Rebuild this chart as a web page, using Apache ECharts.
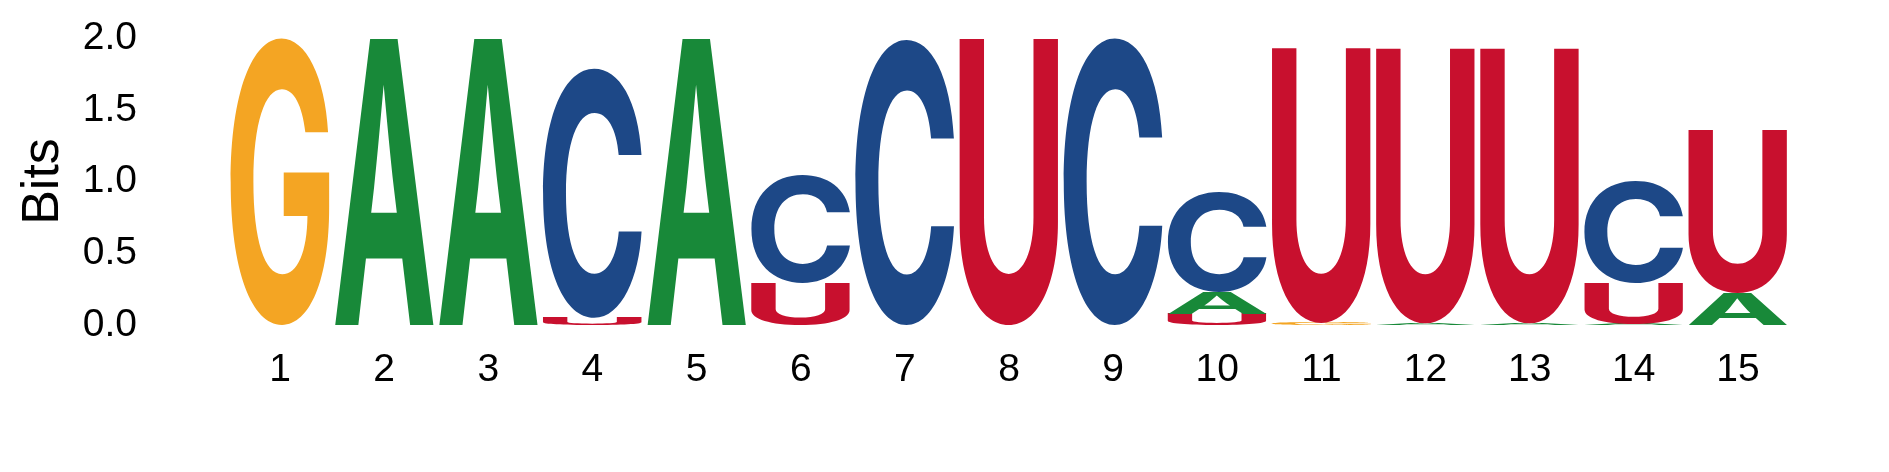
<!DOCTYPE html>
<html><head><meta charset="utf-8">
<script src="https://cdn.jsdelivr.net/npm/echarts@6/dist/echarts.min.js"></script>
<style>html,body{margin:0;padding:0;background:#fff}#c{width:1889px;height:472px}</style>
</head><body><div id="c"></div>
<script>
// ---- data ----
const positions = ['1','2','3','4','5','6','7','8','9','10','11','12','13','14','15'];
const letters = ['A', 'C', 'G', 'U'];
const letterColors = ['#188939', '#1D4887', '#F4A523', '#C8102E'];
const bitsA = [0, 2.00, 2.00, 0, 2.00, 0, 0, 0, 0, 0.15, 0, 0.012, 0.012, 0.012, 0.22];
const bitsC = [0, 0, 0, 1.73, 0, 0.75, 1.98, 0, 1.99, 0.70, 0, 0, 0, 0.71, 0];
const bitsG = [1.99, 0, 0, 0, 0, 0, 0, 0, 0, 0, 0.015, 0, 0, 0, 0];
const bitsU = [0, 0, 0, 0.05, 0, 0.29, 0, 2.00, 0, 0.08, 1.92, 1.92, 1.92, 0.28, 1.14];
const yMin = 0, yMax = 2, yStep = 0.5;

// ---- build stacked letter table ----
const bitsByLetter = [bitsA, bitsC, bitsG, bitsU];
const stackData = [];
positions.forEach((p, i) => {
  const items = letters.map((l, li) => ({ li, v: bitsByLetter[li][i] })).filter(d => d.v > 0);
  items.sort((a, b) => a.v - b.v);
  let base = 0;
  items.forEach(d => { stackData.push([i, base, base + d.v, d.li]); base += d.v; });
});

// ---- glyph ink metrics (canvas 'middle' baseline, as zrender draws) ----
const FONT = 'bold 200px Inter';
const mctx = document.createElement('canvas').getContext('2d');
mctx.font = FONT; mctx.textBaseline = 'middle'; mctx.textAlign = 'left';
const metrics = {};
letters.forEach(l => {
  const m = mctx.measureText(l);
  metrics[l] = { L: m.actualBoundingBoxLeft, R: m.actualBoundingBoxRight, A: m.actualBoundingBoxAscent, D: m.actualBoundingBoxDescent };
});

const chart = echarts.init(document.getElementById('c'), null, { renderer: 'canvas' });
chart.setOption({
  animation: false,
  backgroundColor: '#ffffff',
  grid: { left: 228, right: 99, top: 38, bottom: 147, containLabel: false },
  xAxis: {
    type: 'category', data: positions, boundaryGap: true,
    axisLine: { show: false }, axisTick: { show: false }, splitLine: { show: false },
    axisLabel: { interval: 0, fontSize: 39, color: '#000', fontFamily: 'Liberation Sans', margin: 26 }
  },
  yAxis: {
    type: 'value', min: yMin, max: yMax, interval: yStep,
    axisLine: { show: false }, axisTick: { show: false }, splitLine: { show: false },
    axisLabel: { fontSize: 39, color: '#000', fontFamily: 'Liberation Sans', margin: 91, formatter: v => v.toFixed(1) },
    name: 'Bits', nameLocation: 'middle', nameGap: 158,
    nameTextStyle: { fontSize: 52, color: '#000', fontFamily: 'Liberation Sans' }
  },
  series: [{
    type: 'custom', clip: false, silent: true,
    encode: { x: 0, y: [1, 2] },
    data: stackData,
    renderItem: function (params, api) {
      const xi = api.value(0), y0 = api.value(1), y1 = api.value(2), li = api.value(3);
      const pb = api.coord([xi, y0]);
      const pt = api.coord([xi, y1]);
      const bw = api.size([1, 0])[0] * 0.951;
      const h = pb[1] - pt[1];
      if (h < 0.3) return;
      const L = letters[li];
      const m = metrics[L];
      const sx = bw / (m.L + m.R), sy = h / (m.A + m.D);
      const left = pb[0] - bw / 2;
      return {
        type: 'text', silent: true,
        x: left + sx * m.L, y: pt[1] + sy * m.A, scaleX: sx, scaleY: sy,
        style: { text: L, font: FONT, fill: letterColors[li], align: 'left', verticalAlign: 'middle', x: 0, y: 0 }
      };
    }
  }]
});
</script></body></html>
